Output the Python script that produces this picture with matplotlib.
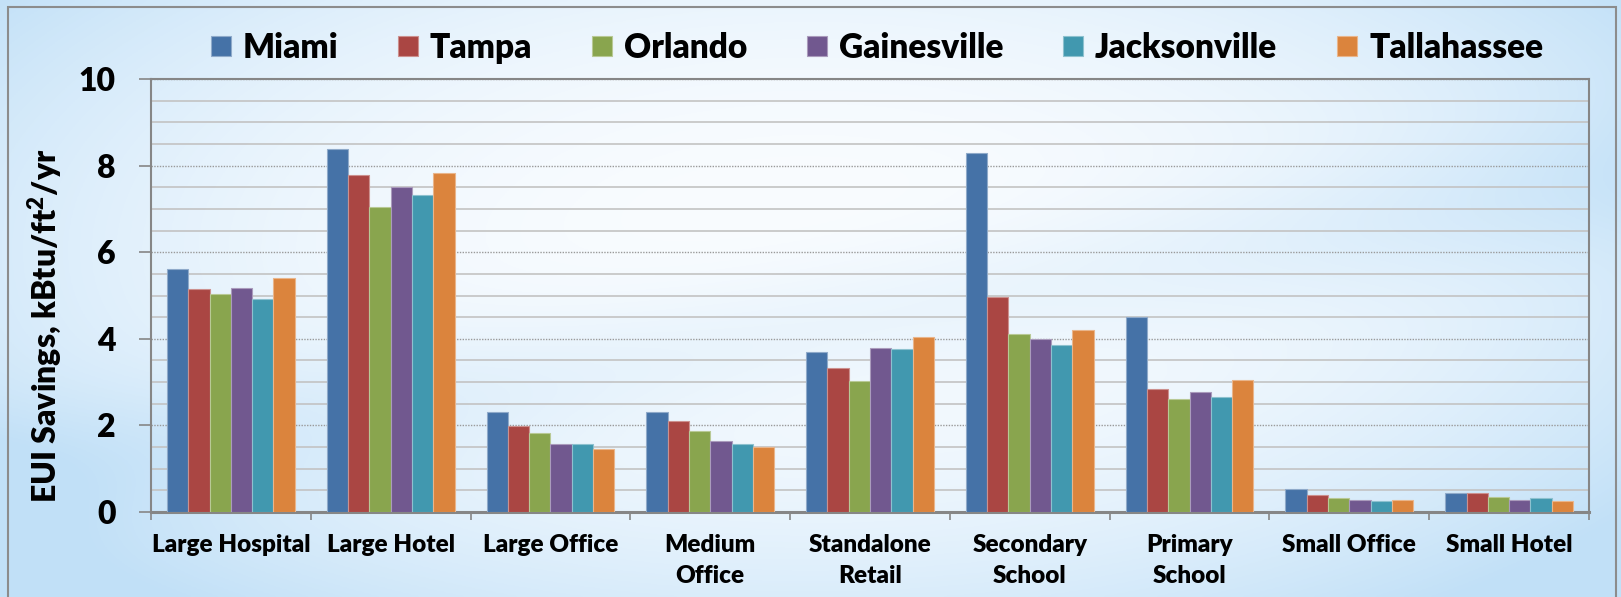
import numpy as np
import matplotlib
matplotlib.use("Agg")
import matplotlib.pyplot as plt
from matplotlib.ticker import MultipleLocator, FixedLocator, NullFormatter
from matplotlib.patches import Rectangle

plt.rcParams['font.family'] = ['Lato', 'DejaVu Sans']
plt.rcParams['font.weight'] = 'heavy'
plt.rcParams['axes.labelweight'] = 'heavy'
plt.rcParams['mathtext.fontset'] = 'custom'
plt.rcParams['mathtext.rm'] = 'Lato'
plt.rcParams['mathtext.bf'] = 'Lato:heavy'

# data (kBtu/ft2/yr)
categories = ['Large Hospital', 'Large Hotel', 'Large Office', 'Medium\nOffice',
              'Standalone\nRetail', 'Secondary\nSchool', 'Primary\nSchool',
              'Small Office', 'Small Hotel']
cities = ['Miami', 'Tampa', 'Orlando', 'Gainesville', 'Jacksonville', 'Tallahassee']

miami        = [5.61, 8.38, 2.32, 2.31, 3.69, 8.28, 4.50, 0.52, 0.45]
tampa        = [5.15, 7.78, 1.99, 2.10, 3.33, 4.97, 2.84, 0.39, 0.44]
orlando      = [5.04, 7.05, 1.82, 1.87, 3.02, 4.11, 2.61, 0.32, 0.35]
gainesville  = [5.17, 7.51, 1.58, 1.63, 3.78, 4.00, 2.77, 0.28, 0.27]
jacksonville = [4.93, 7.31, 1.58, 1.57, 3.76, 3.86, 2.65, 0.25, 0.32]
tallahassee  = [5.40, 7.83, 1.46, 1.49, 4.04, 4.20, 3.05, 0.28, 0.25]

colors = ['#4572A7', '#AA4643', '#89A54E', '#71588F', '#4198AF', '#DB843D']

series = [miami, tampa, orlando, gainesville, jacksonville, tallahassee]

fig = plt.figure(figsize=(16.21, 5.97), dpi=100)

# background gradient (light blue edges, white-ish centre)
bg = fig.add_axes([0, 0, 1, 1], zorder=-10)
h, w = 300, 800
yy, xx = np.mgrid[0:1:h*1j, 0:1:w*1j]
d = np.sqrt(((xx - 0.5) / 0.62) ** 2 + ((yy - 0.42) / 0.75) ** 2)
band = np.exp(-((yy - 0.55 + 0.5 * (xx - 0.5)) / 0.12) ** 2) * 0.25
t = np.clip(d ** 2.2 + band, 0, 1)
edge = np.array([0.76, 0.88, 0.97])
centre = np.array([0.98, 0.99, 1.0])
img = centre[None, None, :] * (1 - t[..., None]) + edge[None, None, :] * t[..., None]
bg.imshow(img, aspect='auto', extent=[0, 1, 0, 1], origin='upper')
bg.set_xlim(0, 1)
bg.set_ylim(0, 1)
bg.axis('off')
bg.add_patch(Rectangle((8 / 1621, -0.1), (1616 - 8) / 1621, 1.1 - 7 / 597,
                       transform=bg.transAxes, fill=False,
                       edgecolor='#8C8C8C', lw=1.5))

ax = fig.add_axes([151 / 1621, 1 - 512 / 597, 1438 / 1621, 433 / 597])
ax.set_facecolor('none')

x = np.arange(len(categories))
bw = 0.8 / 6
for i, (vals, c) in enumerate(zip(series, colors)):
    ec = tuple(0.6 * np.array(matplotlib.colors.to_rgb(c)) + 0.4)
    ax.bar(x + (i - 2.5) * bw, vals, bw, color=c, edgecolor=ec, lw=0.8,
           label=cities[i], zorder=3)

ax.set_xlim(-0.5, 8.5)
ax.set_ylim(0, 10)

ax.yaxis.set_major_locator(MultipleLocator(2))
ax.yaxis.set_minor_locator(MultipleLocator(0.5))
ax.grid(which='minor', axis='y', color='#C3C3C3', lw=1.2, ls='-', zorder=1)
ax.grid(which='major', axis='y', color='#9A9A9A', lw=1.0, ls=(0, (1, 1)), zorder=1)
ax.tick_params(axis='y', which='major', length=8.6, width=1.2, color='#868686',
               pad=17, labelsize=23)
ax.tick_params(axis='y', which='minor', length=0)

ax.xaxis.set_major_locator(FixedLocator(np.arange(-0.5, 9, 1)))
ax.xaxis.set_major_formatter(NullFormatter())
ax.xaxis.set_minor_locator(FixedLocator(x))
ax.set_xticklabels(categories, minor=True, fontsize=17.5, linespacing=1.5)
ax.tick_params(axis='x', which='major', length=6, width=1.2, color='#868686')
ax.tick_params(axis='x', which='minor', length=0, pad=16)

for s in ax.spines.values():
    s.set_color('#868686')
    s.set_linewidth(1.5)
ax.spines['bottom'].set_linewidth(2.2)

ax.set_ylabel('EUI Savings, kBtu/ft$^{\\mathbf{2}}$/yr', fontsize=23,
              fontweight='heavy')
ax.yaxis.set_label_coords(-0.061, 0.43)

fig.legend(loc='center', bbox_to_anchor=(0.541, 1 - 48 / 597), ncol=6,
           frameon=False, prop={'size': 24, 'weight': 'heavy'},
           columnspacing=1.8, handletextpad=0.35, handlelength=0.6,
           handleheight=0.55)

fig.savefig('out.png', dpi=100)
